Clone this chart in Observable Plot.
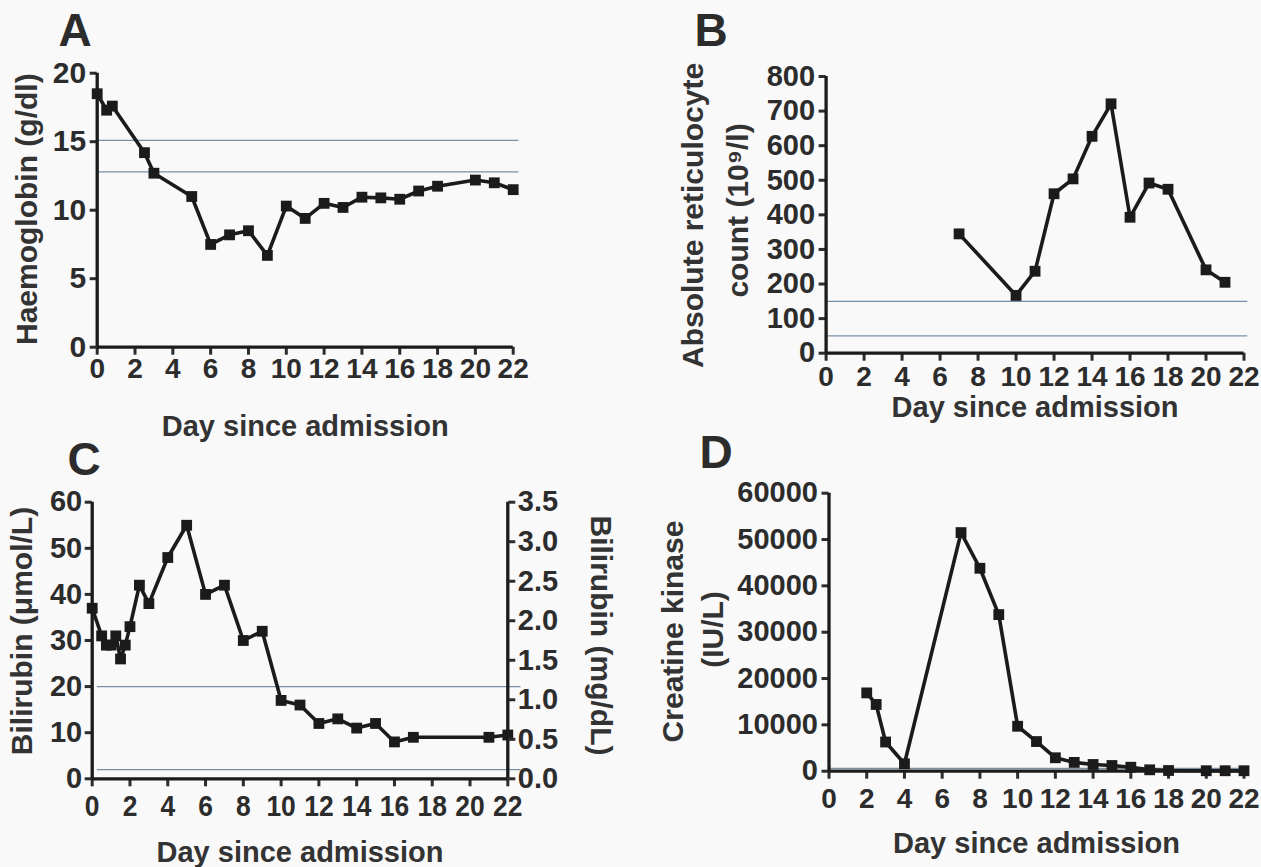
<!DOCTYPE html>
<html>
<head>
<meta charset="utf-8">
<script src="https://cdn.jsdelivr.net/npm/d3@7"></script>
<script src="https://cdn.jsdelivr.net/npm/@observablehq/plot@0.6"></script>
<style>
  html, body { margin: 0; padding: 0; background: #f9f9f9; }
  #wrap { position: relative; width: 1261px; height: 867px; overflow: hidden; background: #f9f9f9; }
  .panel { position: absolute; }
</style>
</head>
<body>
<div id="wrap"></div>
<script>
// ---------- Data ----------
const dayTicks = [0, 2, 4, 6, 8, 10, 12, 14, 16, 18, 20, 22];

// A: Haemoglobin (g/dl)
const hbDays   = [0, 0.5, 0.8, 2.5, 3, 5, 6, 7, 8, 9, 10, 11, 12, 13, 14, 15, 16, 17, 18, 20, 21, 22];
const hbValues = [18.5, 17.3, 17.6, 14.2, 12.7, 11.0, 7.5, 8.2, 8.5, 6.7, 10.3, 9.4, 10.5, 10.2, 10.95, 10.9, 10.8, 11.4, 11.75, 12.2, 12.0, 11.5];
const hbRef    = [12.8, 15.1];
const hbTicks  = [0, 5, 10, 15, 20];

// B: Absolute reticulocyte count (10^9/l)
const retDays   = [7, 10, 11, 12, 13, 14, 15, 16, 17, 18, 20, 21];
const retValues = [345, 167, 237, 461, 504, 627, 721, 393, 492, 474, 241, 205];
const retRef    = [50, 150];
const retTicks  = [0, 100, 200, 300, 400, 500, 600, 700, 800];

// C: Bilirubin (µmol/L), right axis in mg/dL
const bilDays   = [0, 0.5, 0.75, 1, 1.25, 1.5, 1.75, 2, 2.5, 3, 4, 5, 6, 7, 8, 9, 10, 11, 12, 13, 14, 15, 16, 17, 21, 22];
const bilValues = [37, 31, 29, 29, 31, 26, 29, 33, 42, 38, 48, 55, 40, 42, 30, 32, 17, 16, 12, 13, 11, 12, 8, 9, 9, 9.5];
const bilRef    = [2, 20];
const bilTicks  = [0, 10, 20, 30, 40, 50, 60];
const bilMgTicks = [0, 0.5, 1.0, 1.5, 2.0, 2.5, 3.0, 3.5];

// D: Creatine kinase (IU/L)
const ckDays   = [2, 2.5, 3, 4, 7, 8, 9, 10, 11, 12, 13, 14, 15, 16, 17, 18, 20, 21, 22];
const ckValues = [16900, 14400, 6300, 1600, 51500, 43800, 33800, 9700, 6400, 2900, 1900, 1450, 1230, 860, 300, 150, 100, 100, 100];
const ckRef    = [600];
const ckTicks  = [0, 10000, 20000, 30000, 40000, 50000, 60000];

// ---------- Styling ----------
const INK = "#1b1b1b";
const TXT = "#2c2c2c";
const REF = "#7890a6";
const FONT = "'Liberation Sans', Arial, Helvetica, sans-serif";

function panel(cfg) {
  const data = cfg.days.map((d, i) => ({day: d, value: cfg.values[i]}));
  const marks = [
    Plot.ruleY(cfg.refs, {y: d => d, x1: cfg.refSpan[0], x2: cfg.refSpan[1], stroke: REF, strokeWidth: 1.2}),
    Plot.axisX({ticks: dayTicks, tickSize: 8, tickPadding: cfg.xPad, fontSize: cfg.xFont, fontWeight: "bold",
                strokeWidth: 3, label: null, color: TXT}),
    Plot.axisY({ticks: cfg.yTicks, tickSize: 7, tickPadding: cfg.yPad, fontSize: cfg.yFont, fontWeight: "bold",
                strokeWidth: 3, label: null, color: TXT, tickFormat: d => String(d)}),
    Plot.ruleY([cfg.yDomain[0]], {stroke: INK, strokeWidth: 3.3}),
    Plot.ruleX([0], {stroke: INK, strokeWidth: 3.3}),
    Plot.line(data, {x: "day", y: "value", stroke: INK, strokeWidth: 3.6}),
    Plot.dot(data, {x: "day", y: "value", symbol: "square", r: 6.1, fill: INK}),
    // panel letter
    Plot.text([cfg.letter], {frameAnchor: "top-left", textAnchor: "start", lineAnchor: "top",
      dx: cfg.letterPos[0], dy: cfg.letterPos[1], fontSize: 46, fontWeight: "bold", fill: TXT}),
    // x title
    Plot.text(["Day since admission"], {frameAnchor: "bottom", textAnchor: "middle", lineAnchor: "top", dy: cfg.xTitleDy,
      fontSize: 29, fontWeight: "bold", fill: "#333"}),
    ...cfg.yTitles.map(t => Plot.text([t.text], {frameAnchor: t.anchor || "left", textAnchor: "middle", lineAnchor: "middle",
      rotate: t.rotate || -90, dx: t.dx, dy: t.dy, fontSize: t.size || 30, fontWeight: "bold", fill: "#333"})),
    ...(cfg.extra || [])
  ];
  const svg = Plot.plot({
    width: cfg.box[2], height: cfg.box[3],
    marginLeft: cfg.frame[0] - cfg.box[0],
    marginRight: cfg.box[0] + cfg.box[2] - cfg.frame[1],
    marginTop: cfg.frame[2] - cfg.box[1],
    marginBottom: cfg.box[1] + cfg.box[3] - cfg.frame[3],
    x: {domain: [0, 22]},
    y: {domain: cfg.yDomain},
    style: {fontFamily: FONT, background: "transparent", overflow: "visible", color: TXT},
    marks
  });
  svg.classList.add("panel");
  svg.style.left = cfg.box[0] + "px";
  svg.style.top = cfg.box[1] + "px";
  svg.style.maxWidth = "none";
  document.getElementById("wrap").appendChild(svg);
  // narrower, taller tick digits as in the reference
  if (cfg.squeeze) {
    d3.select(svg).selectAll('g[aria-label="x-axis tick label"] text').each(function () {
      const w = this.getComputedTextLength();
      if (w > 0) {
        this.setAttribute("textLength", (w * cfg.squeeze).toFixed(1));
        this.setAttribute("lengthAdjust", "spacingAndGlyphs");
      }
    });
  }
}

// A
panel({
  letter: "A", days: hbDays, values: hbValues, refs: hbRef, refSpan: [0, 22.3],
  yDomain: [0, 20], yTicks: hbTicks,
  box: [0, 0, 630, 440], frame: [96.7, 512.7, 72.7, 346.7],
  xPad: 3, xFont: 28, yPad: 4, yFont: 30,
  letterPos: [-38.7, -59.7], xTitleDy: 68,
  yTitles: [{text: "Haemoglobin (g/dl)", dx: -69.6, dy: -1}]
});

// B
panel({
  letter: "B", days: retDays, values: retValues, refs: retRef, refSpan: [0, 22.2],
  yDomain: [0, 800], yTicks: retTicks,
  box: [630, 0, 631, 440], frame: [825.6, 1243.5, 76, 352.7],
  xPad: 5, xFont: 28, yPad: 4, yFont: 29,
  letterPos: [-131.6, -63], xTitleDy: 43,
  yTitles: [
    {text: "Absolute reticulocyte", dx: -132.6, dy: 0.6},
    {text: "count (10⁹/l)", dx: -87.6, dy: -4.4}
  ]
});

// C
panel({
  letter: "C", days: bilDays, values: bilValues, refs: bilRef, refSpan: [0.27, 22.7],
  yDomain: [0, 60], yTicks: bilTicks,
  box: [0, 440, 630, 427], frame: [91.7, 507.3, 501.7, 778.3],
  xPad: 8, xFont: 30, yPad: 3, yFont: 29, squeeze: 0.88,
  letterPos: [-24.7, -59.7], xTitleDy: 63,
  yTitles: [
    {text: "Bilirubin (μmol/L)", dx: -69.7, dy: -9.5},
    {text: "Bilirubin (mg/dL)", anchor: "right", rotate: 90, dx: 92.7, dy: -5}
  ],
  extra: [
    Plot.ruleX([22], {stroke: INK, strokeWidth: 3.3}),
    Plot.axisY({anchor: "right", ticks: bilMgTicks.map(m => m * 60 / 3.5), tickFormat: d => (d * 3.5 / 60).toFixed(1),
      tickSize: 7, tickPadding: 3, fontSize: 29, fontWeight: "bold", strokeWidth: 3, label: null, color: TXT})
  ]
});

// D
panel({
  letter: "D", days: ckDays, values: ckValues, refs: ckRef, refSpan: [0, 22.2],
  yDomain: [0, 60000], yTicks: ckTicks,
  box: [630, 440, 631, 427], frame: [828.5, 1243.5, 492.7, 770.7],
  xPad: 9, xFont: 28, yPad: 4, yFont: 29,
  letterPos: [-129.5, -57.7], xTitleDy: 61,
  yTitles: [
    {text: "Creatine kinase", dx: -155.5, dy: -0.7},
    {text: "(IU/L)", dx: -115.5, dy: -2.7}
  ]
});
</script>
</body>
</html>
